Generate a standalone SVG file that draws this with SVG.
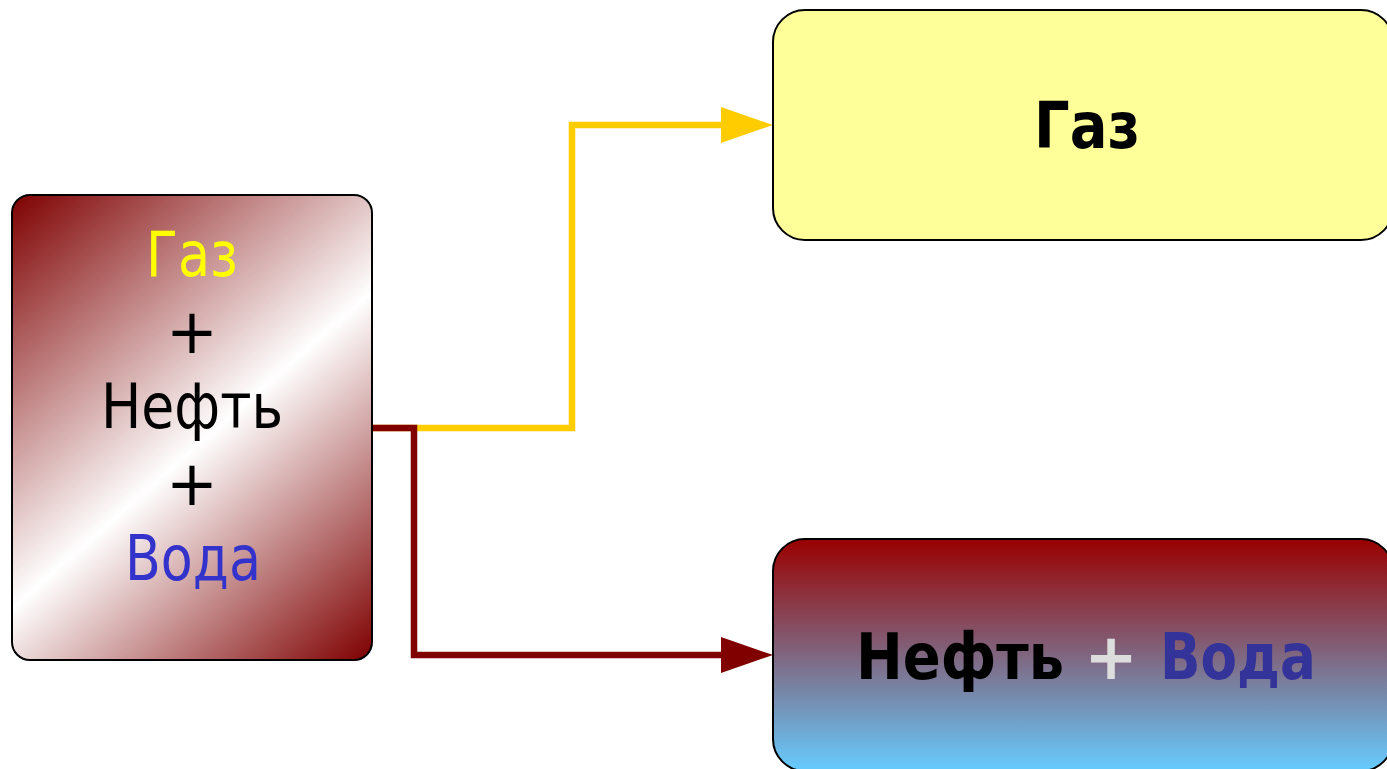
<svg xmlns="http://www.w3.org/2000/svg" width="1387" height="769" viewBox="0 0 1387 769">
  <style>
    .box { stroke: #000; stroke-width: 2; }
    .lbl { font-family: "DejaVu Sans", Verdana, sans-serif; text-anchor: middle; }
    .big { font-size: 64px; font-weight: bold; }
    .mix { font-size: 62px; }
    .flow { fill: none; stroke-width: 6.5; stroke-linejoin: miter; stroke-linecap: butt; }
  </style>
  <defs>
    <!-- diagonal dark red / white sheen for the mixture tank -->
    <linearGradient id="gMix" gradientUnits="userSpaceOnUse" x1="-17" y1="220" x2="371" y2="660">
      <stop offset="0" stop-color="#7e0000"/>
      <stop offset="0.53" stop-color="#ffffff"/>
      <stop offset="1" stop-color="#7e0000"/>
    </linearGradient>
    <!-- oil (red) above water (light blue) -->
    <linearGradient id="gOilWater" x1="0" y1="0" x2="0" y2="1">
      <stop offset="0" stop-color="#990000"/>
      <stop offset="1" stop-color="#66ccff"/>
    </linearGradient>
    <!-- arrowheads start where the line stops, tip 52px further on -->
    <marker id="arrYellow" viewBox="0 0 52 36" refX="1" refY="18" markerWidth="52" markerHeight="36" markerUnits="userSpaceOnUse" orient="auto">
      <path d="M0,0 L52,18 L0,36 Z" fill="#ffcc00"/>
    </marker>
    <marker id="arrRed" viewBox="0 0 52 36" refX="1" refY="18" markerWidth="52" markerHeight="36" markerUnits="userSpaceOnUse" orient="auto">
      <path d="M0,0 L52,18 L0,36 Z" fill="#800000"/>
    </marker>
  </defs>

  <g id="connectors">
    <path class="flow" stroke="#ffcc00" d="M372,428 H572 V125 H722" marker-end="url(#arrYellow)"/>
    <path class="flow" stroke="#800000" d="M372,428 H414 V655 H722" marker-end="url(#arrRed)"/>
  </g>

  <g id="mixture">
    <rect class="box" x="12" y="195" width="360" height="465" rx="18" fill="url(#gMix)"/>
    <text class="lbl mix" x="192" y="276" fill="#ffff00" textLength="92" lengthAdjust="spacingAndGlyphs">Газ</text>
    <text class="lbl mix" x="192" y="353" fill="#000">+</text>
    <text class="lbl mix" x="192" y="428" fill="#000" textLength="182" lengthAdjust="spacingAndGlyphs">Нефть</text>
    <text class="lbl mix" x="192" y="505" fill="#000">+</text>
    <text class="lbl mix" x="193" y="580" fill="#3333cc" textLength="136" lengthAdjust="spacingAndGlyphs">Вода</text>
  </g>

  <g id="gas">
    <rect class="box" x="773" y="10" width="620" height="230" rx="32" fill="#ffff99"/>
    <text class="lbl big" x="1087" y="148" fill="#000" textLength="106" lengthAdjust="spacingAndGlyphs">Газ</text>
  </g>

  <g id="oil-water">
    <rect class="box" x="773" y="539" width="620" height="232" rx="32" fill="url(#gOilWater)"/>
    <text class="lbl big" x="960" y="679" fill="#000" textLength="208" lengthAdjust="spacingAndGlyphs">Нефть</text>
    <text class="lbl big" x="1111" y="679" fill="#dddddd">+</text>
    <text class="lbl big" x="1238" y="679" fill="#333399" textLength="156" lengthAdjust="spacingAndGlyphs">Вода</text>
  </g>
</svg>
